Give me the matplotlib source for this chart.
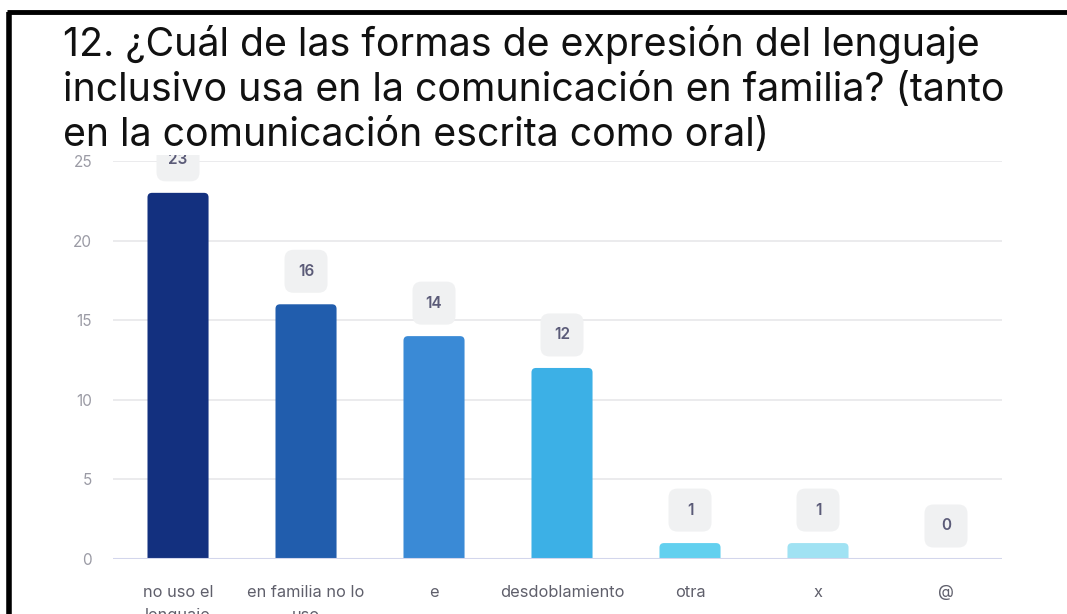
import matplotlib
matplotlib.use("Agg")
import matplotlib.pyplot as plt
import matplotlib.transforms as mtransforms
from matplotlib.patches import FancyBboxPatch, Rectangle
from matplotlib.lines import Line2D

plt.rcParams["font.family"] = ["Inter", "DejaVu Sans"]

title = ("12. ¿Cuál de las formas de expresión del lenguaje\n"
         "inclusivo usa en la comunicación en familia? (tanto\n"
         "en la comunicación escrita como oral)")
categories = ["no uso el\nlenguaje\ninclusivo", "en familia no lo\nuso", "e",
              "desdoblamiento", "otra", "x", "@"]
values = [23, 16, 14, 12, 1, 1, 0]
colors = ["#13307f", "#215dad", "#3a8ad6", "#3cb0e6", "#62d0ef", "#a0e2f3", "#c9eef8"]
yticks = [0, 5, 10, 15, 20, 25]

W, H = 1067, 614
fig = plt.figure(figsize=(W / 100, H / 100), dpi=100)
fig.patch.set_facecolor("white")

# plot area in pixel coordinates
left_px, right_px = 113, 1002
bottom_px, top_px = 559, 161
ax = fig.add_axes([left_px / W, 1 - bottom_px / H,
                   (right_px - left_px) / W, (bottom_px - top_px) / H])
ax.set_xlim(-0.508, 6.4375)
ax.set_ylim(0, 25)
for s in ax.spines.values():
    s.set_visible(False)
ax.set_yticks(yticks)
ax.tick_params(axis="y", length=0, pad=15, labelsize=11, labelcolor="#9b9ba5")
ax.tick_params(axis="x", length=0, pad=19, labelsize=11.8, labelcolor="#5f5f6b")
ax.set_xticks(range(len(categories)))
ax.set_xticklabels(categories, linespacing=1.65, va="top")
ax.grid(axis="y", color="#e8e8ea", linewidth=1.2)
ax.set_axisbelow(True)
ax.axhline(0, color="#d3d6ec", linewidth=1.5, zorder=3)

# bars with slightly rounded tops
bar_w = 0.477
bars = ax.bar(range(len(values)), values, width=bar_w, color=colors)
x_unit = (right_px - left_px) / (6.4375 + 0.508)
y_unit = (bottom_px - top_px) / 25
aspect = x_unit / y_unit
r = 4.5 / x_unit
for b, c in zip(bars, colors):
    x0, h = b.get_x(), b.get_height()
    b.remove()
    if h <= 0:
        continue
    p = FancyBboxPatch((x0, -r * aspect), bar_w, h + r * aspect,
                       boxstyle=f"round,pad=0,rounding_size={r}",
                       mutation_aspect=aspect, facecolor=c, edgecolor="none",
                       zorder=2)
    ax.add_patch(p)

# value badges above each bar
box = 43
for i, v in enumerate(values):
    tr = mtransforms.IdentityTransform() + mtransforms.ScaledTranslation(i, v, ax.transData)
    badge = FancyBboxPatch((-box / 2, 33 - box / 2), box, box,
                           boxstyle="round,pad=0,rounding_size=9",
                           transform=tr, facecolor="#f0f1f2", edgecolor="none",
                           clip_on=False, zorder=4)
    ax.add_patch(badge)
    ax.annotate(str(v), xy=(i, v), xytext=(0, 33), textcoords="offset pixels",
                ha="center", va="center", fontsize=11, fontweight="semibold",
                color="#5b5b78", zorder=5, annotation_clip=False)

# white band behind the heading
fig.patches.append(Rectangle((0, 1 - 155 / H), 1, 155 / H, transform=fig.transFigure,
                             facecolor="white", edgecolor="none", zorder=5))
fig.text(63 / W, 1 - 25 / H, title, ha="left", va="top", fontsize=28.3,
         color="#111111", linespacing=1.28, zorder=6)

# black frame along top and left edges
fig.lines.append(Line2D([8.5 / W, 8.5 / W], [0, 1 - 12 / H], transform=fig.transFigure,
                        color="black", linewidth=4, zorder=7, solid_capstyle="butt"))
fig.lines.append(Line2D([6.5 / W, 1], [1 - 12 / H, 1 - 12 / H], transform=fig.transFigure,
                        color="black", linewidth=3.5, zorder=7, solid_capstyle="butt"))

fig.savefig("out.png", dpi=100)
